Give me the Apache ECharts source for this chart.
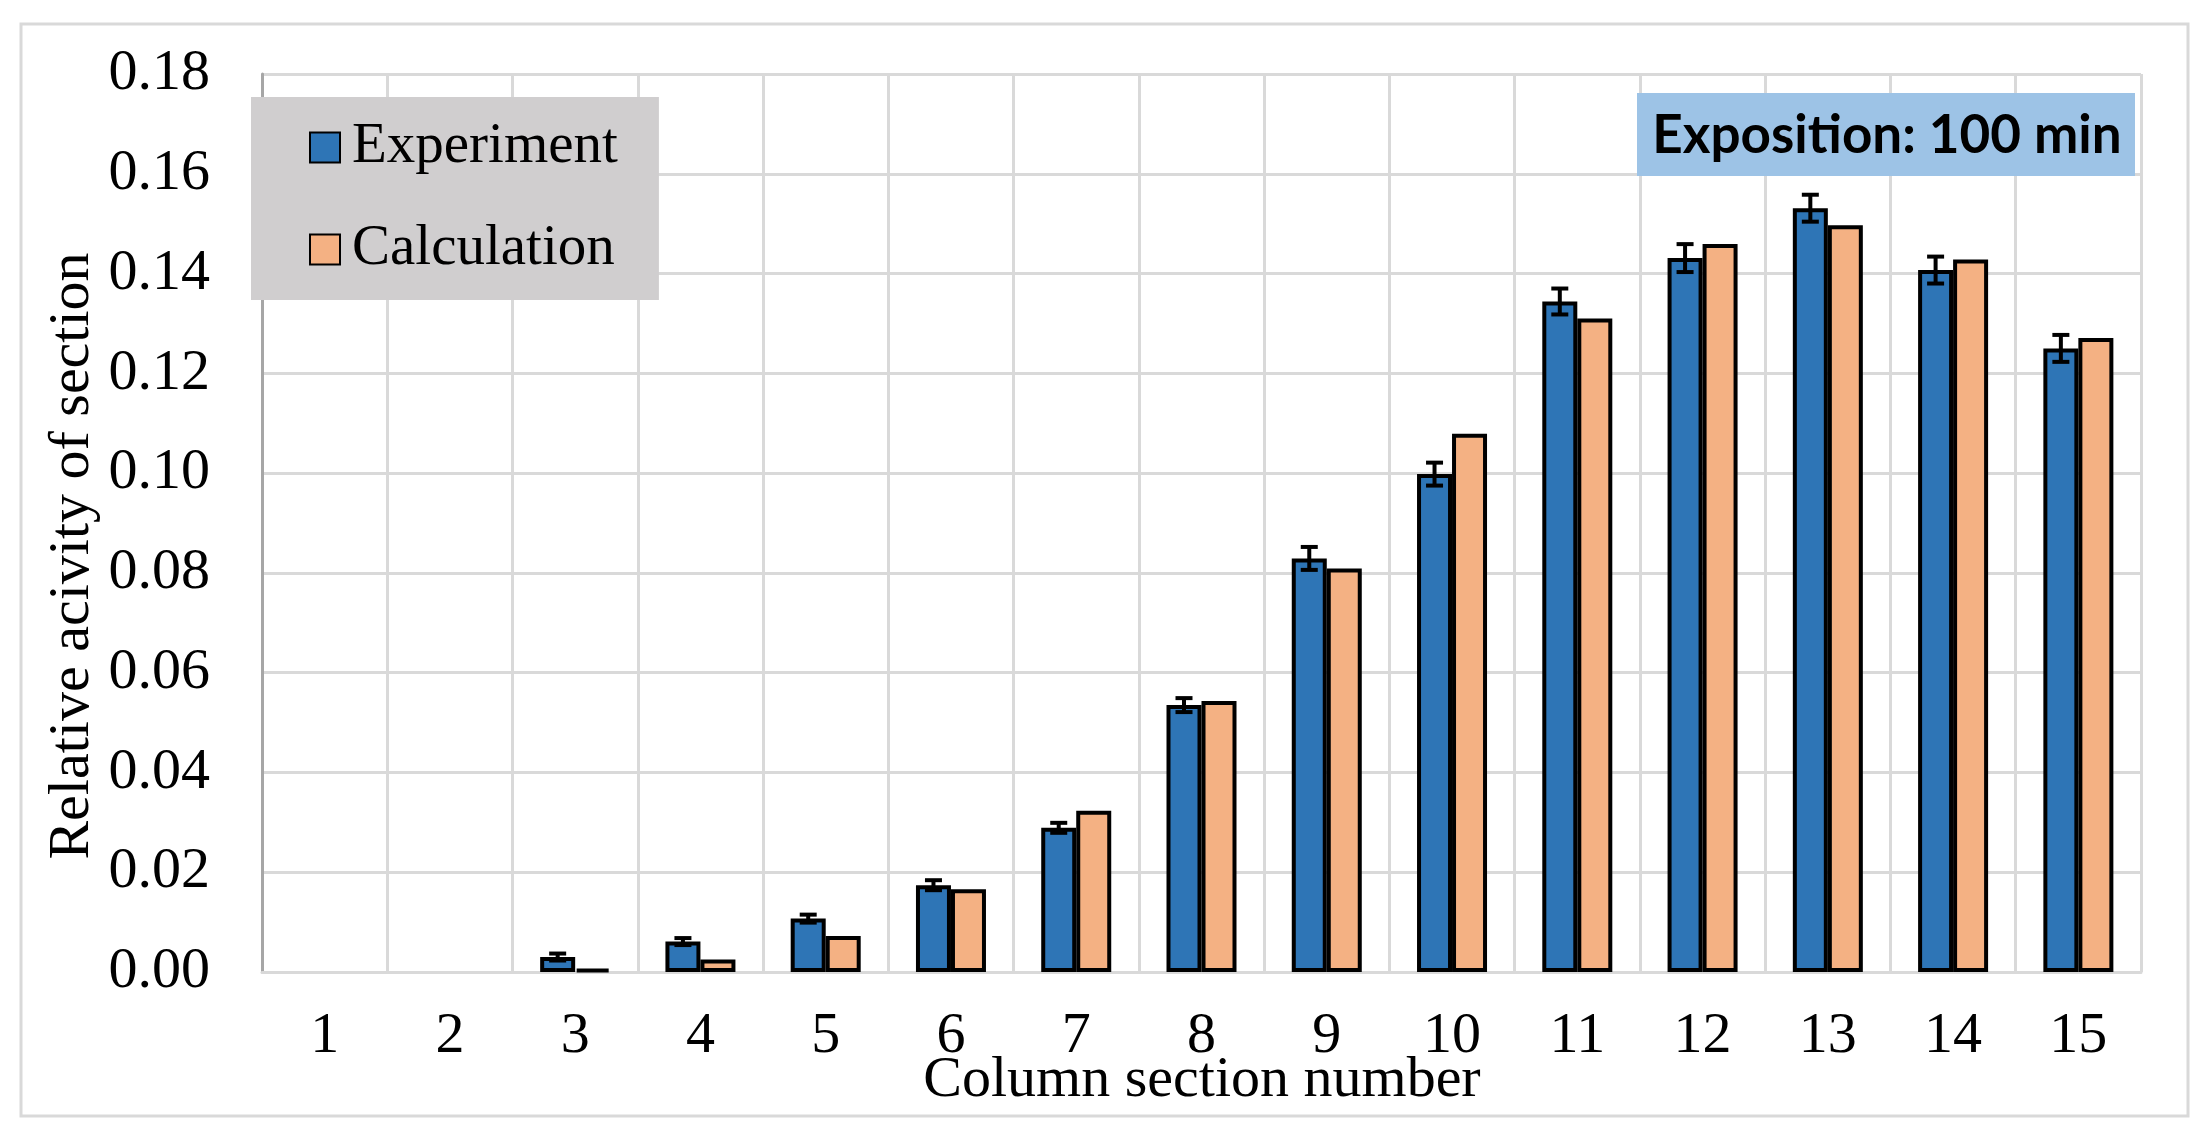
<!DOCTYPE html>
<html>
<head>
<meta charset="utf-8">
<style>
  html, body { margin: 0; padding: 0; background: #ffffff; }
  #chart { width: 2212px; height: 1143px; }
</style>
<script src="https://cdn.jsdelivr.net/npm/echarts@6/dist/echarts.min.js"></script>
</head>
<body>
<div id="chart"></div>
<script>
const categories = ['1','2','3','4','5','6','7','8','9','10','11','12','13','14','15'];
const experiment = [0, 0, 0.0030, 0.0061, 0.0107, 0.0174, 0.0289, 0.0535, 0.0829, 0.0998, 0.1344, 0.1431, 0.1531, 0.1407, 0.1250];
const calculation = [0, 0, 0.0006, 0.0025, 0.0072, 0.0166, 0.0323, 0.0543, 0.0809, 0.1079, 0.1310, 0.1459, 0.1497, 0.1428, 0.1271];
const expError = [0, 0, 0.0007, 0.0007, 0.0008, 0.0010, 0.0010, 0.0014, 0.0023, 0.0023, 0.0026, 0.0028, 0.0027, 0.0027, 0.0027];
const yTicks = { min: 0, max: 0.18, interval: 0.02 };

const FONT = 'Liberation Serif';
const BAR_W = 35;

const chart = echarts.init(document.getElementById('chart'));

const option = {
  animation: false,
  backgroundColor: '#ffffff',
  grid: { left: 262, right: 71, top: 74, bottom: 171, containLabel: false },
  legend: {
    left: 251, top: 97,
    orient: 'vertical',
    backgroundColor: '#d0cecf',
    padding: [22, 41, 22, 58],
    itemGap: 45,
    itemWidth: 30, itemHeight: 30,
    icon: 'rect',
    textStyle: { fontFamily: FONT, fontSize: 57, color: '#000000', padding: [0, 0, 0, 7] },
    data: ['Experiment', 'Calculation']
  },
  xAxis: {
    type: 'category',
    data: categories,
    boundaryGap: true,
    axisLine: { show: true, lineStyle: { color: '#d9d9d9', width: 3 } },
    axisTick: { show: false },
    axisLabel: { margin: 36, fontFamily: FONT, fontSize: 58, color: '#000000' },
    splitLine: { show: true, interval: 0, lineStyle: { color: '#d9d9d9', width: 3 } }
  },
  yAxis: {
    type: 'value',
    min: yTicks.min, max: yTicks.max, interval: yTicks.interval,
    axisLine: { show: true, lineStyle: { color: '#a6a6a6', width: 3 } },
    axisTick: { show: false },
    axisLabel: {
      margin: 52, fontFamily: FONT, fontSize: 58, color: '#000000',
      formatter: v => v.toFixed(2)
    },
    splitLine: { show: true, lineStyle: { color: '#d9d9d9', width: 3 } }
  },
  series: [
    {
      name: 'Experiment', type: 'bar',
      data: experiment.map(v => v === 0 ? '-' : v),
      barWidth: BAR_W, barGap: '0%',
      itemStyle: { color: '#2e75b6', borderColor: '#000000', borderWidth: 4 },
      z: 3
    },
    {
      name: 'Calculation', type: 'bar',
      data: calculation.map(v => v === 0 ? '-' : v),
      barWidth: BAR_W, barGap: '0%',
      itemStyle: { color: '#f4b183', borderColor: '#000000', borderWidth: 4 },
      z: 3
    },
    {
      name: 'err', type: 'custom',
      data: experiment.map((v, i) => [i, v, expError[i]]),
      z: 5,
      renderItem: function (params, api) {
        const i = api.value(0), v = api.value(1), e = api.value(2);
        if (!e) return null;
        const top = api.coord([i, v + e]);
        const bot = api.coord([i, v - e]);
        const x = top[0] - BAR_W / 2;
        const cap = 8.5;
        const st = { stroke: '#000000', lineWidth: 4 };
        return {
          type: 'group',
          children: [
            { type: 'line', shape: { x1: x, y1: top[1], x2: x, y2: bot[1] }, style: st },
            { type: 'line', shape: { x1: x - cap, y1: top[1], x2: x + cap, y2: top[1] }, style: st },
            { type: 'line', shape: { x1: x - cap, y1: bot[1], x2: x + cap, y2: bot[1] }, style: st }
          ]
        };
      },
      tooltip: { show: false }
    }
  ],
  graphic: [
    {
      type: 'rect', z: -10,
      shape: { x: 21, y: 24, width: 2167, height: 1092 },
      style: { fill: 'none', stroke: '#d9d9d9', lineWidth: 3 }
    },
    {
      type: 'rect', z: 10,
      shape: { x: 1637, y: 93, width: 498, height: 83 },
      style: { fill: '#9dc3e6' }
    },
    {
      type: 'text', z: 11,
      x: 1887, y: 136,
      style: {
        text: 'Exposition: 100 min',
        font: 'bold 53px Lato',
        fill: '#000000',
        textAlign: 'center', textVerticalAlign: 'middle'
      }
    },
    {
      type: 'text', z: 11,
      x: 73, y: 556, rotation: Math.PI / 2,
      style: {
        text: 'Relative acivity of section',
        font: '58px "Liberation Serif"',
        fill: '#000000',
        textAlign: 'center', textVerticalAlign: 'middle'
      }
    },
    {
      type: 'text', z: 11,
      x: 1202, y: 1081,
      style: {
        text: 'Column section number',
        font: '58px "Liberation Serif"',
        fill: '#000000',
        textAlign: 'center', textVerticalAlign: 'middle'
      }
    }
  ]
};

chart.setOption(option);
</script>
</body>
</html>
